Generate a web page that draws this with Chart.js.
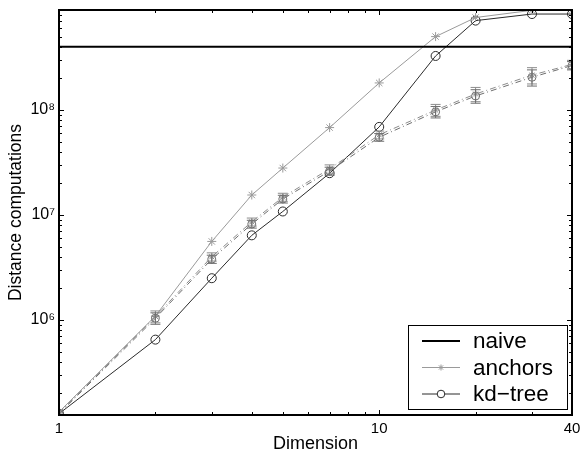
<!DOCTYPE html>
<html>
<head>
<meta charset="utf-8">
<script src="https://cdn.jsdelivr.net/npm/chart.js@4.4.1/dist/chart.umd.min.js"></script>
<style>
  html, body { margin: 0; padding: 0; background: #fff; }
  #wrap { width: 583px; height: 455px; }
</style>
</head>
<body>
<div id="wrap"><canvas id="dist_chart" width="583" height="455"></canvas></div>
<script>
// dimensions on the x axis
const dims = [1, 2, 3, 4, 5, 7, 10, 15, 20, 30, 40];

// worst-case curves (solid lines)
const naive   = [4e8, 4e8, 4e8, 4e8, 4e8, 4e8, 4e8, 4e8, 4e8, 4e8, 4e8];
const anchors = [1.33e5, 1.09e6, 5.6e6, 1.55e7, 2.8e7, 6.8e7, 1.81e8, 5.0e8, 7.6e8, 8.9e8, 8.9e8];
const kdTree  = [1.28e5, 6.5e5, 2.5e6, 6.4e6, 1.08e7, 2.5e7, 6.9e7, 3.27e8, 7.1e8, 8.2e8, 8.2e8];

// average curves (dash-dot) with error bars
const anchorsAvg    = [1.30e5, 1.08e6, 4.0e6, 8.6e6, 1.48e7, 2.75e7, 5.8e7, 1.0e8, 1.42e8, 2.15e8, 2.72e8];
const anchorsAvgErr = [0, 1.4e5, 3.6e5, 7.5e5, 1.3e6, 2.5e6, 5.0e6, 1.3e7, 2.2e7, 3.8e7, 2.5e7];
const kdTreeAvg     = [1.28e5, 1.04e6, 3.8e6, 8.2e6, 1.42e7, 2.62e7, 5.5e7, 9.6e7, 1.36e8, 2.05e8, 2.65e8];
const kdTreeAvgErr  = [0, 1.3e5, 3.4e5, 7.0e5, 1.2e6, 2.3e6, 4.6e6, 1.2e7, 2.0e7, 3.6e7, 2.4e7];

// tick labels
const xTickLabels = [1, 10, 40];
const yTickLabels = { 1e6: '10⁶', 1e7: '10⁷', 1e8: '10⁸' };

const yMin = 1.245e5, yMax = 8.96e8;
const FONT = "'Liberation Sans', Arial, sans-serif";

function pts(ys) {
    return dims.map((d, i) => ({ x: d, y: ys[i] }));
}

// error bars for the dash-dot series
const errorBars = {
    id: 'errorBars',
    afterDatasetsDraw(chart) {
        const ctx = chart.ctx, xs = chart.scales.x, ys = chart.scales.y, a = chart.chartArea;
        ctx.save();
        ctx.beginPath();
        ctx.rect(a.left, a.top, a.right - a.left, a.bottom - a.top);
        ctx.clip();
        chart.data.datasets.forEach(ds => {
            if (!ds.errors) return;
            ctx.strokeStyle = ds.borderColor;
            ctx.lineWidth = 1;
            ds.data.forEach((p, i) => {
                const e = ds.errors[i];
                if (!e) return;
                const px = xs.getPixelForValue(p.x);
                const lo = ys.getPixelForValue(p.y - e);
                const hi = ys.getPixelForValue(p.y + e);
                ctx.beginPath();
                ctx.moveTo(px, lo); ctx.lineTo(px, hi);
                ctx.moveTo(px - 5, lo); ctx.lineTo(px + 5, lo);
                ctx.moveTo(px - 5, hi); ctx.lineTo(px + 5, hi);
                ctx.stroke();
            });
        });
        ctx.restore();
    }
};

// matlab style box with inward ticks on all four sides, plus the legend
const boxTicks = {
    id: 'boxTicks',
    afterDraw(chart) {
        const ctx = chart.ctx, xs = chart.scales.x, ys = chart.scales.y, a = chart.chartArea;
        ctx.save();
        ctx.strokeStyle = '#000';
        ctx.lineWidth = 1;
        xs.ticks.forEach(t => {
            const px = Math.round(xs.getPixelForValue(t.value)) + 0.5;
            const len = xTickLabels.includes(t.value) ? 5 : 3;
            ctx.beginPath();
            ctx.moveTo(px, a.bottom); ctx.lineTo(px, a.bottom - len);
            ctx.moveTo(px, a.top); ctx.lineTo(px, a.top + len);
            ctx.stroke();
        });
        ys.ticks.forEach(t => {
            const py = Math.round(ys.getPixelForValue(t.value)) + 0.5;
            const len = yTickLabels[t.value] !== undefined ? 5 : 3;
            ctx.beginPath();
            ctx.moveTo(a.left, py); ctx.lineTo(a.left + len, py);
            ctx.moveTo(a.right, py); ctx.lineTo(a.right - len, py);
            ctx.stroke();
        });
        ctx.lineWidth = 2;
        ctx.strokeRect(a.left, a.top, a.right - a.left, a.bottom - a.top);

        // legend
        const lx = 408, ly = 325, lw = 159, lh = 84;
        ctx.fillStyle = '#fff';
        ctx.fillRect(lx, ly, lw, lh);
        ctx.lineWidth = 1;
        ctx.strokeStyle = '#000';
        ctx.strokeRect(lx + 0.5, ly + 0.5, lw, lh);
        ctx.font = '22.5px ' + FONT;
        ctx.textBaseline = 'middle';
        chart.data.datasets.forEach(ds => {
            if (ds.legendRow === undefined) return;
            const y = ly + 16 + ds.legendRow * 26.5;
            ctx.strokeStyle = ds.borderColor;
            ctx.lineWidth = ds.borderWidth;
            ctx.beginPath();
            ctx.moveTo(lx + 14, y); ctx.lineTo(lx + 52, y);
            ctx.stroke();
            if (ds.pointRadius > 0) {
                ctx.strokeStyle = ds.pointBorderColor;
                ctx.fillStyle = '#fff';
                ctx.lineWidth = 1;
                Chart.helpers.drawPoint(ctx, {
                    pointStyle: ds.pointStyle,
                    radius: ds.pointStyle === 'circle' ? 3.8 : 3,
                    borderWidth: 1, rotation: 0
                }, lx + 33, y);
            }
            ctx.fillStyle = '#000';
            ctx.fillText(ds.label, lx + 65, y + 1);
        });
        ctx.restore();
    }
};

new Chart(document.getElementById('dist_chart'), {
    type: 'line',
    data: {
        datasets: [
            {
                label: 'anchors avg', data: pts(anchorsAvg), errors: anchorsAvgErr,
                borderColor: '#8c8c8c', borderWidth: 1, borderDash: [6, 3, 1, 3],
                pointStyle: 'star', pointRadius: 3.5, pointBorderColor: '#8c8c8c',
                pointBackgroundColor: '#8c8c8c', pointBorderWidth: 1
            },
            {
                label: 'kd-tree avg', data: pts(kdTreeAvg), errors: kdTreeAvgErr,
                borderColor: '#6e6e6e', borderWidth: 1, borderDash: [6, 3, 1, 3],
                pointStyle: 'circle', pointRadius: 4, pointBorderColor: '#6e6e6e',
                pointBackgroundColor: 'rgba(0,0,0,0)', pointBorderWidth: 1
            },
            {
                label: 'naive', data: pts(naive), legendRow: 0,
                borderColor: '#000', borderWidth: 2, pointRadius: 0
            },
            {
                label: 'anchors', data: pts(anchors), legendRow: 1,
                borderColor: '#9a9a9a', borderWidth: 1,
                pointStyle: 'star', pointRadius: 4.5, pointBorderColor: '#9a9a9a',
                pointBackgroundColor: '#9a9a9a', pointBorderWidth: 1
            },
            {
                label: 'kd\u2212tree', data: pts(kdTree), legendRow: 2,
                borderColor: '#2a2a2a', borderWidth: 1,
                pointStyle: 'circle', pointRadius: 4.5, pointBorderColor: '#2a2a2a',
                pointBackgroundColor: 'rgba(255,255,255,0)', pointBorderWidth: 1
            }
        ]
    },
    options: {
        responsive: false,
        animation: false,
        events: [],
        layout: { padding: { top: 10, right: 11, left: 0, bottom: 0 } },
        plugins: { legend: { display: false }, tooltip: { enabled: false } },
        scales: {
            x: {
                type: 'logarithmic', min: 1, max: 40,
                grid: { display: false, drawTicks: false },
                border: { display: false },
                afterBuildTicks(scale) {
                    const t = [];
                    for (let v = 1; v <= 9; v++) t.push({ value: v });
                    for (let v = 10; v <= 40; v += 10) t.push({ value: v });
                    scale.ticks = t;
                },
                afterFit(scale) {
                    scale.height = 40;
                    scale.paddingLeft = 0;
                    scale.paddingRight = 0;
                },
                ticks: {
                    autoSkip: false, maxRotation: 0, padding: 5, color: '#000',
                    font: { family: FONT, size: 15 },
                    callback: v => xTickLabels.includes(v) ? String(v) : ''
                },
                title: {
                    display: true, text: 'Dimension', color: '#000',
                    font: { family: FONT, size: 18 }, padding: { top: 0, bottom: 0 }
                }
            },
            y: {
                type: 'logarithmic', min: yMin, max: yMax,
                grid: { display: false, drawTicks: false },
                border: { display: false },
                afterBuildTicks(scale) {
                    const t = [];
                    for (let e = 5; e <= 8; e++) {
                        for (let m = 1; m <= 9; m++) {
                            const v = m * Math.pow(10, e);
                            if (v >= yMin && v <= yMax) t.push({ value: v });
                        }
                    }
                    scale.ticks = t;
                },
                afterFit(scale) {
                    scale.width = 59;
                    scale.paddingTop = 0;
                    scale.paddingBottom = 0;
                },
                ticks: {
                    autoSkip: false, padding: 4, color: '#000',
                    font: { family: FONT, size: 16 },
                    callback: v => yTickLabels[v] || ''
                },
                title: {
                    display: true, text: 'Distance computations', color: '#000',
                    font: { family: FONT, size: 17.5 }, padding: { top: 6, bottom: 0 }
                }
            }
        }
    },
    plugins: [errorBars, boxTicks]
});
</script>
</body>
</html>
